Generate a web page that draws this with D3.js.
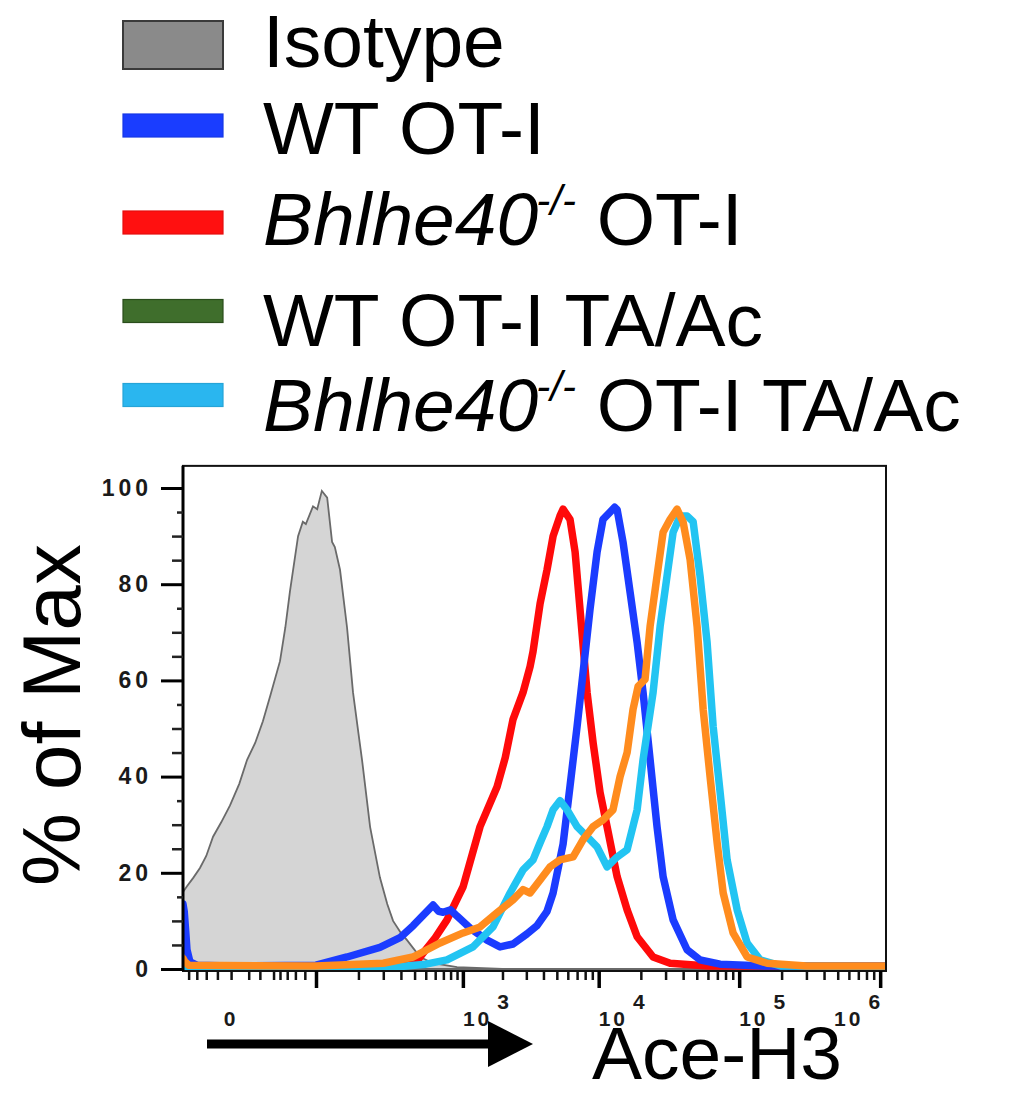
<!DOCTYPE html>
<html><head><meta charset="utf-8">
<script src="https://cdn.jsdelivr.net/npm/d3@7"></script>
<style>body{margin:0;background:#fff}svg{display:block}</style>
</head><body>
<svg id="c" width="1027" height="1095"></svg>
<script>
// ---------- DATA ----------
const legendItems = ["Isotype", "WT OT-I", "Bhlhe40-/- OT-I", "WT OT-I TA/Ac", "Bhlhe40-/- OT-I TA/Ac"];
const legendColors = ["#8a8a8a", "#1a3dff", "#ff1010", "#3f6e2c", "#2ab6ef"];
const yTicks = [0, 20, 40, 60, 80, 100];
const yMinor = [5,10,15,25,30,35,45,50,55,65,70,75,85,90,95];
const xMajor = [0, 1e3, 1e4, 1e5, 1e6];
const xMinor = [-700,-600,-500,-400,-300,-200,-150,-100,-80,-60,-40,-20,
  100,200,300,400,500,600,700,800,900,
  2e3,3e3,4e3,5e3,6e3,7e3,8e3,9e3,
  2e4,3e4,4e4,5e4,6e4,7e4,8e4,9e4,
  2e5,3e5,4e5,5e5,6e5,7e5,8e5,9e5];
const xLabels = [{t:"0", sup:"", at:-300, anchor:"middle"}, {t:"10", sup:"3", at:1e3, anchor:"start"},
                 {t:"10", sup:"4", at:1e4, anchor:"start"}, {t:"10", sup:"5", at:1e5, anchor:"start"},
                 {t:"10", sup:"6", at:1.05e6, anchor:"end"}];

const isotype = [[-777,16],[-722,17.2],[-640,19],[-565,21],[-500,23.5],[-437,27.5],[-370,30.5],[-307,34],
  [-250,38.5],[-208,43.5],[-170,47],[-138,51.5],[-110,57],[-80,64],[-65,71],[-53,78.5],[-34,90],[-24,93],
  [-18,92.5],[-5,96.2],[2,95.6],[10,99.4],[20,98],[30,88.8],[36,87.7],[48,83],[66,71],[83,57.5],[100,49],
  [112,43.5],[142,29.5],[184,19],[220,13.5],[252,10],[300,7.5],[342,6],[447,2.5],[576,1.2],[900,0.4],
  [2000,0],[1.1e6,0]];
const wtOT1 = [[-777,13.5],[-760,12],[-740,8],[-722,4],[-683,1.5],[-600,0.8],[-300,0.6],[0,0.8],[66,2.5],
  [184,4.5],[294,6.5],[388,9],[512,12],[576,13.3],[640,12],[696,11.8],[800,12.3],[900,11],[1136,8.5],
  [1533,6],[1918,4.6],[2395,5.2],[3033,7.3],[3590,9],[4246,12],[4698,15.8],[5549,26],[6224,38],[6996,50.4],
  [7732,61.7],[8670,74.8],[9740,86.7],[10740,93.5],[12060,95],[13000,96],[13550,95.5],[14930,88.75],
  [16770,78.3],[18820,67.9],[20740,57.5],[23280,43.5],[26080,29.6],[28810,19.2],[33940,10.2],[42660,4],
  [52740,1.9],[73230,1.0],[150000,0.6],[1.1e6,0.6]];
const koOT1 = [[-777,0.5],[200,0.5],[400,1.0],[474,3.3],[600,6.5],[749,10.2],[1004,17.1],[1356,29.6],
  [1823,37.9],[2100,44],[2395,51.9],[2838,57.5],[3196,62.9],[3359,66],[3781,76],[4246,83],[4698,90],
  [5270,94.2],[5549,95.6],[6224,93.5],[6772,86.7],[7345,74.8],[8256,57.5],[9125,47],[10230,36.7],
  [11480,29.6],[13550,19.2],[15970,12.3],[18820,6.7],[24450,2.5],[32330,1.2],[60000,0.6],[1.1e6,0.6]];
const koTA = [[-777,0.4],[300,0.5],[500,1],[749,1.9],[1198,4.6],[1699,8.75],[2277,15.8],[2838,20.6],
  [3359,22.7],[3781,26.25],[4246,29.6],[4698,33.1],[5270,35],[5926,33.1],[6996,29.6],[8256,27.5],
  [9740,25.4],[11480,21.25],[13550,23.3],[15970,24.8],[18820,33.1],[20740,43.5],[24450,57.5],
  [27440,71.25],[30730,81.7],[33940,90.8],[38090,94.2],[42660,94.2],[47110,93],[52740,81.7],[59190,67.9],
  [65360,50.4],[73230,36.7],[82120,22.7],[96730,12.3],[113920,5.4],[140800,1.9],[200000,0.6],[1.1e6,0.5]];
const wtTA = [[-777,2.2],[-750,1.5],[-700,0.8],[0,0.6],[200,1.2],[388,2.5],[657,5.4],[1004,7.5],
  [1356,8.75],[1823,11.7],[2395,14.4],[2838,16.5],[3196,15.8],[3781,18.5],[4471,21.25],[5270,22.7],
  [6553,23.3],[7732,26.9],[9125,29.6],[10740,31],[12660,33.1],[14220,40],[15970,45],[17600,54],
  [19130,58.75],[21430,60.2],[23280,71.25],[26080,81.7],[28810,90.8],[32330,93.5],[36210,95.6],
  [40000,92.9],[44790,85.2],[50260,71.25],[55500,54],[62130,40],[69750,26.25],[77000,15.8],[90470,7.5],
  [113920,2.5],[158000,1.2],[300000,0.6],[1.1e6,0.6]];
const lineSeries = [
  {data: koOT1, color: "#ff0a0a"},
  {data: wtOT1, color: "#1b3cff"},
  {data: koTA,  color: "#22c4f2"},
  {data: wtTA,  color: "#ff8c1e"}
];

// ---------- CHART ----------
const FONT = "'Liberation Sans', Arial, sans-serif";
const svg = d3.select("#c");
const x = d3.scaleSymlog().constant(100).domain([-777, 1.1e6]).range([183, 886]);
const y = d3.scaleLinear().domain([0, 100]).range([969, 488]);
const yTop = y(104.6), yBot = 971;

// legend
const lg = svg.append("g");
const baselines = [67, 154, 245, 346, 431];
const swatchCenters = [45, 125.5, 222.5, 311, 395];
legendItems.forEach((name, i) => {
  const b = baselines[i];
  const isRect = i === 0;
  const h = isRect ? 48 : 23;
  const cy = swatchCenters[i];
  lg.append("rect").attr("x", 123).attr("y", cy - h/2).attr("width", 100).attr("height", h)
    .attr("fill", legendColors[i])
    .attr("stroke", isRect ? "#3a3a3a" : (i === 3 ? "#2a4d1c" : d3.color(legendColors[i]).darker(0.3)))
    .attr("stroke-width", isRect ? 2 : 1.2);
  const t = lg.append("text").attr("x", 263).attr("y", b)
    .attr("font-family", FONT).attr("font-size", 75).attr("fill", "#000");
  const m = name.match(/^(Bhlhe40)(-\/-)(.*)$/);
  if (m) {
    t.append("tspan").attr("font-style", "italic").text(m[1]);
    t.append("tspan").attr("font-style", "italic").attr("font-size", 42).attr("dy", -30).attr("dx", -2).text(m[2]);
    t.append("tspan").attr("dy", 30).text(m[3]);
  } else {
    t.text(name);
  }
});

// clip
svg.append("clipPath").attr("id", "plotclip").append("rect")
  .attr("x", 183).attr("y", yTop).attr("width", 886 - 183).attr("height", yBot - yTop);
const plot = svg.append("g").attr("clip-path", "url(#plotclip)");

plot.append("path").datum(isotype)
  .attr("d", d3.area().x(d => x(d[0])).y0(y(0)).y1(d => y(d[1])))
  .attr("fill", "#d5d5d5").attr("stroke", "#6a6a6a").attr("stroke-width", 1.8);

const line = d3.line().x(d => x(d[0])).y(d => y(d[1]));
lineSeries.forEach(s => {
  plot.append("path").datum(s.data).attr("d", line)
    .attr("fill", "none").attr("stroke", s.color).attr("stroke-width", 7.5)
    .attr("stroke-linejoin", "round").attr("stroke-linecap", "round");
});

// frame
svg.append("rect").attr("x", 183).attr("y", yTop).attr("width", 886 - 183).attr("height", yBot - yTop)
  .attr("fill", "none").attr("stroke", "#111").attr("stroke-width", 2);
svg.append("line").attr("x1", 183).attr("x2", 183).attr("y1", yTop).attr("y2", yBot)
  .attr("stroke", "#000").attr("stroke-width", 3);

// y axis
const yAx = svg.append("g").attr("transform", "translate(183,0)")
  .call(d3.axisLeft(y).tickValues(yTicks).tickSize(22).tickPadding(9));
yAx.select(".domain").remove();
yAx.selectAll(".tick line").attr("stroke", "#000").attr("stroke-width", 3);
yAx.selectAll(".tick text").attr("font-family", FONT).attr("font-size", 23).attr("font-weight", "bold")
  .attr("letter-spacing", 4).attr("fill", "#1a1a1a");
const yMin = svg.append("g").attr("transform", "translate(183,0)")
  .call(d3.axisLeft(y).tickValues(yMinor).tickSize(11).tickFormat(""));
yMin.select(".domain").remove();
yMin.selectAll(".tick line").attr("stroke", "#222").attr("stroke-width", 2.5)
  .attr("x2", d => (d % 20 === 15) ? -6 : -11);

// x axis
const xAx = svg.append("g").attr("transform", `translate(0,${yBot})`)
  .call(d3.axisBottom(x).tickValues(xMajor).tickSize(17).tickFormat(""));
xAx.select(".domain").remove();
xAx.selectAll(".tick line").attr("stroke", "#000").attr("stroke-width", 3.5);
const xMin = svg.append("g").attr("transform", `translate(0,${yBot})`)
  .call(d3.axisBottom(x).tickValues(xMinor).tickSize(9).tickFormat(""));
xMin.select(".domain").remove();
xMin.selectAll(".tick line").attr("stroke", "#111").attr("stroke-width", 2.5);

const xl = svg.append("g");
xLabels.forEach(l => {
  const t = xl.append("text").attr("x", x(l.at)).attr("y", 1026).attr("text-anchor", l.anchor)
    .attr("font-family", FONT).attr("font-size", 21).attr("font-weight", "bold").attr("letter-spacing", 3)
    .attr("fill", "#1a1a1a");
  t.append("tspan").text(l.t);
  if (l.sup) t.append("tspan").attr("dy", -17).attr("dx", 5).text(l.sup);
});

// axis titles
svg.append("text").attr("transform", "translate(80,715) rotate(-90)").attr("text-anchor", "middle")
  .attr("font-family", FONT).attr("font-size", 82).attr("fill", "#000").text("% of Max");
svg.append("line").attr("x1", 207).attr("x2", 492).attr("y1", 1044).attr("y2", 1044)
  .attr("stroke", "#000").attr("stroke-width", 9);
svg.append("path").attr("d", d3.line()([[488, 1021], [533, 1044], [488, 1067]]) + "Z").attr("fill", "#000");
svg.append("text").attr("x", 592).attr("y", 1079).attr("font-family", FONT).attr("font-size", 75)
  .attr("fill", "#000").text("Ace-H3");
</script>
</body></html>
